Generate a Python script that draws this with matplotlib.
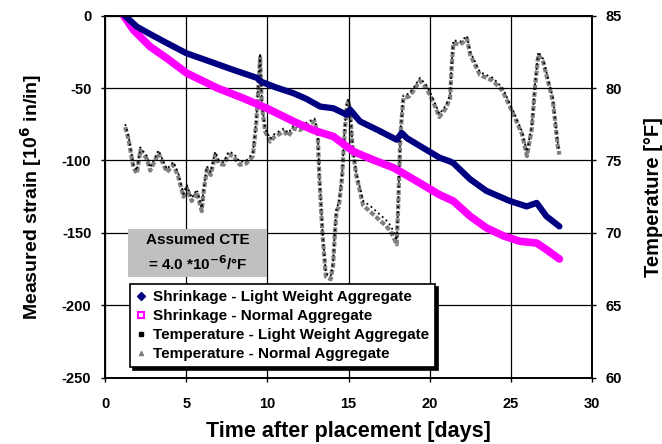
import numpy as np
import matplotlib
matplotlib.use("Agg")
import matplotlib.pyplot as plt
from matplotlib.lines import Line2D
from matplotlib.patches import Rectangle

plt.rcParams['font.family'] = ['Liberation Sans', 'DejaVu Sans']
plt.rcParams['font.weight'] = 'bold'
plt.rcParams['axes.unicode_minus'] = False

# shrinkage - light weight aggregate
lwa_days = [1.2, 1.95, 2.8, 3.8, 5.0, 6.27, 7.9, 9.35, 9.6, 10.5, 11.6, 12.4, 13.25, 14.07,
            14.9, 15.1, 15.7, 16.8, 17.97, 18.28, 18.6, 19.4, 20.6, 21.26, 21.46, 22.5,
            23.5, 24.95, 25.98, 26.6, 27.2, 28.0]
lwa_strain = [0, -7.7, -13, -19, -26, -31, -37.5, -43, -45.6, -49.5, -53.6, -57.5, -62.8, -64,
              -68.5, -65, -73, -79, -85.7, -81, -84.6, -90, -98, -100.7, -101.8, -113,
              -121, -128, -131.7, -129.3, -138.5, -145.5]

# shrinkage - normal aggregate
na_days = [1.13, 1.74, 2.77, 3.8, 5.03, 6.9, 8.5, 9.96, 11.6, 12.8, 14.07, 15.3, 16.5,
           17.76, 18.18, 19.4, 20.6, 21.46, 22.5, 23.5, 24.54, 25.57, 26.6, 27.2, 28.0]
na_strain = [0, -10, -21.5, -29.5, -39.8, -50, -57, -64, -73, -79, -83.5, -93.8, -99.5,
             -105, -107.6, -115.6, -123.6, -128, -138.5, -146.5, -152, -155.8, -157, -161.5, -168]

# temperature - light weight aggregate
t_days = [1.23, 1.43, 1.74, 1.95, 2.16, 2.57, 2.77, 3.28, 3.8, 4.2, 4.5, 4.82, 5.03, 5.33,
          5.65, 5.95, 6.06, 6.27, 6.5, 6.78, 7.0, 7.3, 7.6, 7.9, 8.3, 8.7, 9.1, 9.3, 9.45,
          9.55, 9.65, 9.86, 10.17, 10.4, 11.0, 11.3, 11.6, 12.0, 12.4, 12.9, 13.1, 13.2,
          13.4, 13.6, 13.9, 14.05, 14.15, 14.26, 14.4, 14.6, 14.75, 14.9, 15.0, 15.1, 15.25,
          15.47, 15.9, 16.3, 16.7, 17.0, 17.3, 17.6, 17.85, 17.97, 18.06, 18.2, 18.38, 18.7,
          19.0, 19.4, 19.8, 20.2, 20.6, 21.0, 21.26, 21.35, 21.46, 21.9, 22.3, 22.5, 23.1,
          23.5, 23.9, 24.5, 25.16, 25.7, 26.0, 26.3, 26.5, 26.7, 27.0, 27.4, 27.6, 27.9, 28.0]
temp_lwa = [77.5, 76.7, 74.7, 74.3, 75.9, 75.3, 74.5, 75.7, 74.4, 74.9, 74.1, 72.7, 73.3, 72.4,
            73.0, 71.7, 73.0, 74.6, 74.2, 75.6, 75.0, 74.9, 75.6, 75.5, 74.9, 75.0, 75.5, 77.6, 80.5,
            82.4, 79.0, 77.2, 76.5, 76.8, 77.2, 76.9, 77.4, 77.3, 77.6, 77.9, 77.0, 74.0,
            70.0, 67.2, 67.0, 68.0, 70.0, 71.8, 72.0, 74.0, 77.0, 79.0, 79.3, 78.5, 76.0,
            74.2, 72.2, 71.9, 71.5, 71.2, 70.9, 70.5, 69.9, 69.5, 72.0, 77.0, 79.5, 79.6,
            80.0, 80.7, 80.2, 79.3, 78.2, 78.8, 79.5, 81.5, 83.3, 83.2, 83.6, 82.5, 81.1,
            80.9, 80.7, 80.0, 78.4, 77.0, 75.6, 77.4, 80.3, 82.5, 82.0, 80.2, 79.3, 76.2, 75.6]

# temperature - normal aggregate
temp_na = [77.3, 76.5, 74.5, 74.1, 75.7, 75.1, 74.3, 75.5, 74.2, 74.7, 73.9, 72.5, 73.1, 72.2,
           72.8, 71.5, 72.8, 74.4, 74.0, 75.4, 74.8, 74.7, 75.4, 75.3, 74.7, 74.8, 75.3, 77.4, 80.2,
           82.1, 78.8, 77.0, 76.3, 76.6, 77.0, 76.7, 77.2, 77.1, 77.4, 77.7, 76.8, 73.8,
           69.8, 67.0, 66.8, 67.8, 69.8, 71.5, 71.8, 73.8, 76.8, 78.8, 79.1, 78.3, 75.8,
           74.0, 71.9, 71.5, 71.1, 70.8, 70.5, 70.1, 69.5, 69.2, 71.8, 76.8, 79.3, 79.4,
           79.8, 80.5, 80.0, 79.1, 78.0, 78.6, 79.3, 81.3, 83.1, 83.0, 83.4, 82.3, 80.9,
           80.7, 80.5, 79.8, 78.2, 76.8, 75.3, 77.2, 80.1, 82.3, 81.8, 80.0, 79.1, 76.0, 75.4]

x_ticks = [0, 5, 10, 15, 20, 25, 30]
strain_ticks = [-250, -200, -150, -100, -50, 0]
temp_ticks = [60, 65, 70, 75, 80, 85]

fig = plt.figure(figsize=(6.62, 4.44), dpi=100)
ax = fig.add_subplot(111)
fig.subplots_adjust(left=0.159, right=0.894, top=0.965, bottom=0.149)
ax2 = ax.twinx()

ax.set_zorder(ax2.get_zorder() + 1)
ax.patch.set_visible(False)

# temperature on right axis
ax2.plot(t_days, temp_na, color='#808080', lw=3.0, ls=(0, (1.2, 0.5)))
ax2.plot(t_days, temp_lwa, color='black', lw=1.3, ls=(0, (1, 1.8)))

# shrinkage on left axis
ax.plot(na_days, na_strain, color='#ff00ff', lw=5.5, solid_capstyle='round')
ax.plot(lwa_days, lwa_strain, color='#000080', lw=4.5, solid_capstyle='round')

ax.set_xlim(0, 30)
ax.set_ylim(-250, 0)
ax2.set_ylim(60, 85)
ax.set_xticks(x_ticks, [str(v) for v in x_ticks], fontweight='bold')
ax.set_yticks(strain_ticks, [str(v) for v in strain_ticks], fontweight='bold')
ax2.set_yticks(temp_ticks, [str(v) for v in temp_ticks], fontweight='bold')
ax.grid(True, color='black', lw=0.9)

for a in (ax, ax2):
    a.tick_params(labelsize=10.5, direction='out', length=3, width=1, pad=7)
    for s in a.spines.values():
        s.set_linewidth(1.2)
ax.tick_params(axis='x', pad=11)

ax.set_xlabel('Time after placement [days]', fontsize=15.5, fontweight='bold', labelpad=7)
ax.set_ylabel('Measured strain [10$^{\\mathbf{6}}$ in/in]', fontsize=14, fontweight='bold', labelpad=13)
ax2.set_ylabel('Temperature [°F]', fontsize=14.5, fontweight='bold', labelpad=16)

# CTE note box
ax.add_patch(Rectangle((0.047, 0.279), 0.286, 0.132, transform=ax.transAxes,
                       fc='#c0c0c0', ec='none', zorder=4))
ax.text(0.19, 0.345, 'Assumed CTE\n= 4.0 *10$^{\\mathbf{-6}}$/°F', transform=ax.transAxes,
        ha='center', va='center', fontsize=11, fontweight='bold', linespacing=1.5, zorder=5)

handles = [
    Line2D([], [], ls='none', marker='D', ms=4, color='#000080'),
    Line2D([], [], ls='none', marker='s', ms=4.5, mfc='white', mec='#ff00ff', mew=1.5),
    Line2D([], [], ls='none', marker='s', ms=2.5, color='black'),
    Line2D([], [], ls='none', marker='^', ms=3, color='#808080'),
]
labels = ['Shrinkage - Light Weight Aggregate', 'Shrinkage - Normal Aggregate',
          'Temperature - Light Weight Aggregate', 'Temperature - Normal Aggregate']
leg = ax.legend(handles, labels, loc='lower left', bbox_to_anchor=(0.035, 0.008),
                fontsize=11, frameon=True, fancybox=False, edgecolor='black',
                handlelength=0.6, handletextpad=0.5, borderpad=0.4, labelspacing=0.33,
                shadow={'color': 'black', 'alpha': 1, 'ox': 2, 'oy': -2})
leg.get_frame().set_linewidth(1.2)
for t in leg.get_texts():
    t.set_fontweight('bold')

fig.savefig('out.png', dpi=100)
